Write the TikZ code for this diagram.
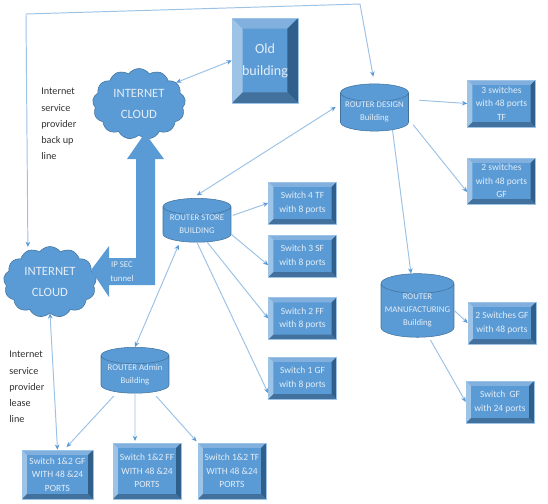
\documentclass[tikz,border=0pt]{standalone}
\usepackage{fontspec}
\setmainfont{Carlito}
\usetikzlibrary{positioning,arrows.meta,calc,shapes.geometric,shapes.symbols}
\definecolor{nodeblue}{HTML}{5B9BD5}
\definecolor{nodeedge}{HTML}{41719C}
\definecolor{bevlight}{HTML}{9DC3E6}
\definecolor{bevmid}{HTML}{82B0DE}
\definecolor{bevdark}{HTML}{2F5F8A}
\definecolor{bevlow}{HTML}{41719C}
\definecolor{linkblue}{HTML}{9CC2E5}
\definecolor{tipblue}{HTML}{5B9BD5}
\definecolor{paletext}{HTML}{E3EDF7}

\begin{document}
\begin{tikzpicture}[
      x=0.02cm,y=-0.02cm,
      bevel/.style={rectangle,fill=nodeblue,draw=bevlight,line width=0.3pt,text=paletext,align=center,inner sep=0pt,
        font=\fontsize{5.4}{7.6}\selectfont,
        path picture={
          \fill[bevmid] (path picture bounding box.north west) -- (path picture bounding box.north east) -- ++(-#1,-#1) -- ($(path picture bounding box.north west)+(#1,-#1)$) -- cycle;
          \fill[bevlight] (path picture bounding box.north west) -- (path picture bounding box.south west) -- ++(#1,#1) -- ($(path picture bounding box.north west)+(#1,-#1)$) -- cycle;
          \fill[bevdark] (path picture bounding box.north east) -- (path picture bounding box.south east) -- ++(-#1,#1) -- ($(path picture bounding box.north east)+(-#1,-#1)$) -- cycle;
          \fill[bevlow] (path picture bounding box.south west) -- (path picture bounding box.south east) -- ++(-#1,#1) -- ($(path picture bounding box.south west)+(#1,#1)$) -- cycle;
        }},
      switch/.style={bevel=2.8pt,minimum width=1.36cm,minimum height=0.84cm},
      router/.style={shape=cylinder,shape border rotate=90,aspect=0.3,fill=nodeblue,draw=nodeedge,line width=0.3pt,text=paletext,align=center,inner sep=0pt,
        font=\fontsize{5}{7.6}\selectfont,minimum width=1.36cm,minimum height=0.82cm},
      inetcloud/.style={shape=cloud,cloud puffs=13,cloud puff arc=110,aspect=1.3,fill=nodeblue,draw=nodeedge,line width=0.3pt,text=paletext,align=center,inner sep=0pt,
        font=\fontsize{7.2}{11.5}\selectfont,minimum width=1.86cm,minimum height=1.42cm},
      note/.style={align=left,anchor=west,inner sep=0pt,text=black!80,font=\fontsize{5.8}{9.2}\selectfont},
      flow/.style={-{Stealth[length=3pt,width=2.6pt,color=tipblue]},linkblue,line width=0.55pt},
      link/.style={{Stealth[length=3pt,width=2.6pt,color=tipblue]}-{Stealth[length=3pt,width=2.6pt,color=tipblue]},linkblue,line width=0.55pt}
    ]
      \useasboundingbox (0,0) rectangle (548,504);

      \node[inetcloud] (cloudup) at (139,104) {INTERNET\\CLOUD};
      \node[inetcloud] (cloudlow) at (50,282) {INTERNET\\CLOUD};

      % thick tunnel arrow
      \fill[nodeblue] (145,133) -- (164,159) -- (155,159) -- (155,285) -- (109,285) -- (109,297) -- (91,270) -- (109,246) -- (109,258) -- (136,258) -- (136,159) -- (127,159) -- cycle;
      \node[inner sep=0pt,align=center,text=paletext,font=\fontsize{5}{7.8}\selectfont] (tunnel) at (122,272) {IP SEC\\tunnel};

      \node[bevel=6pt,minimum width=1.32cm,minimum height=1.70cm,font=\fontsize{8}{12.5}\selectfont] (old) at (265,60.5) {Old\\building};

      \node[router] (design) at (374.5,112) {ROUTER DESIGN\\Building};
      \node[router] (store) at (197,224.5) {ROUTER STORE\\BUILDING};
      \node[router] (admin) at (135,374.5) {ROUTER Admin\\Building};
      \node[router,minimum width=1.46cm,minimum height=1.18cm] (manuf) at (417.5,310.5) {ROUTER\\MANUFACTURING\\Building};

      \node[switch,minimum height=0.94cm] (sw3tf) at (501.5,103.5) {3 switches\\with 48 ports\\TF};
      \node[switch,minimum height=0.92cm] (sw2gf) at (501.5,181) {2 switches\\with 48 ports\\GF};
      \node[switch] (sw4) at (302.5,203) {Switch 4 TF\\with 8 ports};
      \node[switch] (sw3) at (302.5,256) {Switch 3 SF\\with 8 ports};
      \node[switch] (sw2) at (302.5,318.5) {Switch 2 FF\\with 8 ports};
      \node[switch] (sw1) at (302.5,378) {Switch 1 GF\\with 8 ports};
      \node[switch] (mangf) at (502,323) {2 Switches GF\\with 48 ports};
      \node[switch] (man24) at (500,402) {Switch~~GF\\with 24 ports};
      \node[switch,minimum width=1.42cm,minimum height=0.98cm] (admgf) at (57.5,474.5) {Switch 1\&2 GF\\WITH 48 \&24\\PORTS};
      \node[switch,minimum height=1.12cm] (admff) at (147,471) {Switch 1\&2 FF\\WITH 48 \&24\\PORTS};
      \node[switch,minimum height=1.12cm] (admtf) at (232,471) {Switch 1\&2 TF\\WITH 48 \&24\\PORTS};

      \node[note] (backup) at (41,124) {Internet\\service\\provider\\back up\\line};
      \node[note] (lease) at (9,387) {Internet\\service\\provider\\lease\\line};

      \coordinate (topright) at (360,4);
      \coordinate (topleft) at (26,14);

      \draw[link] (old.west) -- (cloudup.30);
      \draw[link,shorten <=3pt,shorten >=3pt] (design.167) -- (store.100);
      \draw[link,shorten <=4pt,shorten >=2pt] (design.north) -- (topright) -- (topleft) -- (cloudlow.125);
      \draw[flow,shorten <=6pt] (design.20) -- (sw3tf.west);
      \draw[flow,shorten <=4pt] (design.-12) -- (sw2gf.198);
      \draw[flow] (design.-45) -- (manuf.100);
      \draw[flow] (manuf.east) -- (mangf.west);
      \draw[flow,shorten <=2pt] (manuf.-67) -- (man24.west);
      \draw[flow,shorten <=1pt] (store.14) -- (sw4.west);
      \draw[flow] (store.-16) -- (sw3.195);
      \draw[flow] (store.-60) -- (sw2.west);
      \draw[flow] (store.south) -- (sw1.204);
      \draw[link,shorten <=2pt] (store.-135) -- (admin.north);
      \draw[flow,shorten <=3pt,shorten >=2pt] (admin.-135) -- (admgf.75);
      \draw[flow,shorten >=1pt] (admin.south) -- (admff.113);
      \draw[flow,shorten <=3pt,shorten >=1pt] (admin.-45) -- (admtf.north west);
      \draw[link] (cloudlow.south) -- (admgf.north);
    \end{tikzpicture}
\end{document}
